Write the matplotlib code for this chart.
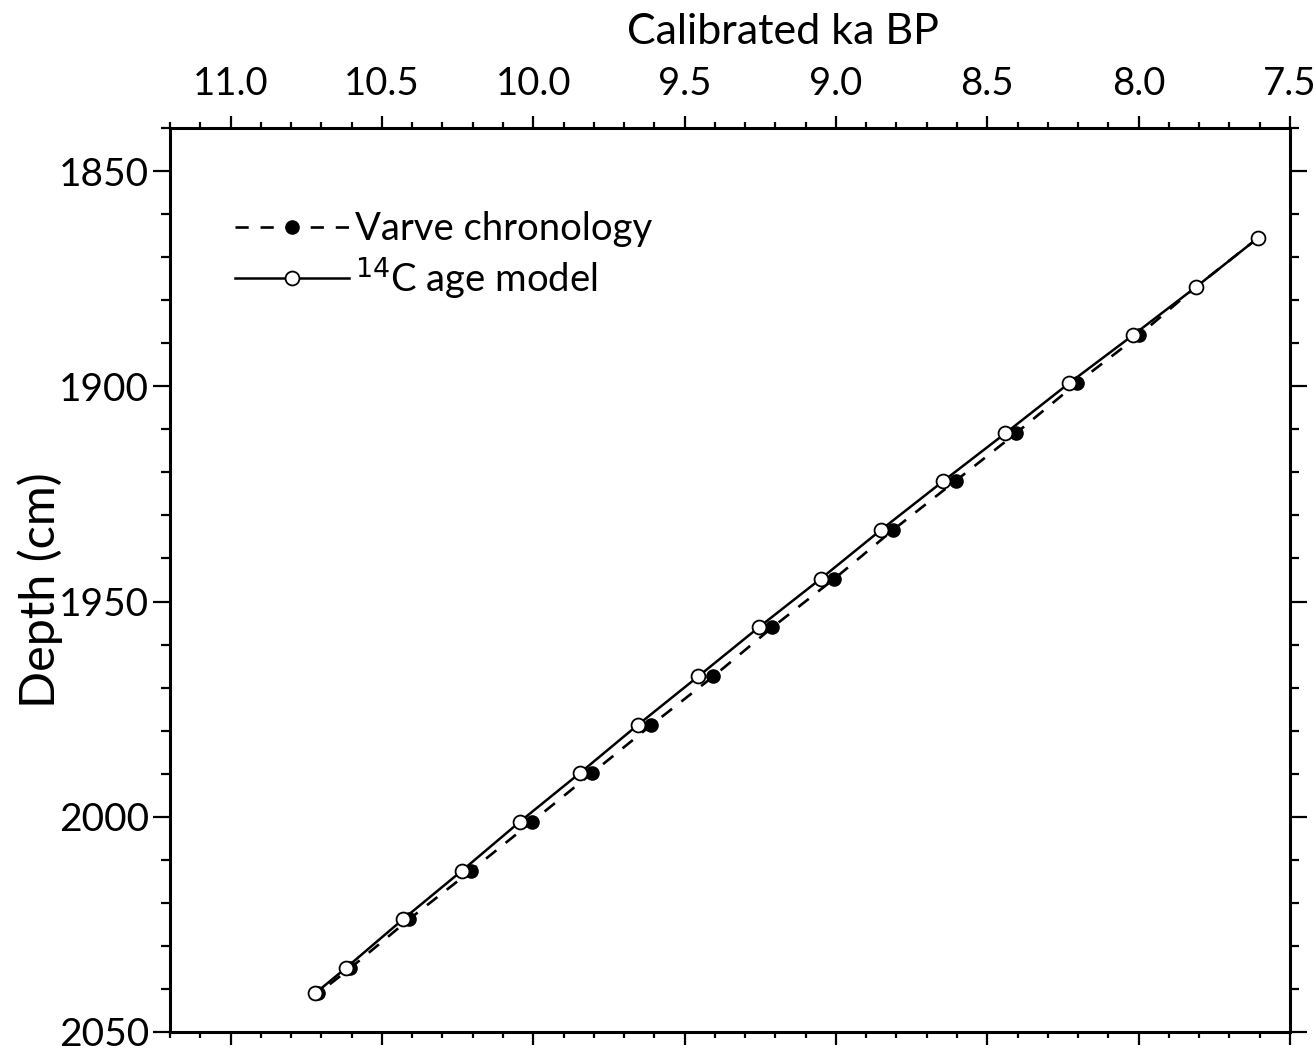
import matplotlib.pyplot as plt
from matplotlib.ticker import MultipleLocator

plt.rcParams['font.family'] = ['Lato', 'DejaVu Sans']

# depth (cm) of the dated levels
depth = [1865.5, 1876.9, 1888.2, 1899.3, 1910.9, 1922.0, 1933.3, 1944.7, 1956.0,
         1967.4, 1978.7, 1989.8, 2001.2, 2012.5, 2023.8, 2035.2, 2041.0]
# varve chronology (cal ka BP)
varve_age = [7.605, 7.81, 8.0, 8.205, 8.405, 8.605, 8.81, 9.005, 9.21,
             9.405, 9.61, 9.805, 10.005, 10.205, 10.41, 10.605, 10.71]
# 14C age model (cal ka BP)
c14_age = [7.605, 7.81, 8.02, 8.23, 8.44, 8.645, 8.85, 9.05, 9.255,
           9.455, 9.655, 9.845, 10.045, 10.235, 10.43, 10.62, 10.72]

fig = plt.figure(figsize=(13.14, 10.54), dpi=100)
ax = fig.add_axes([170 / 1314, 1 - 1032 / 1054, (1290 - 170) / 1314, (1032 - 128) / 1054])

ax.plot(varve_age, depth, color='black', lw=1.9, linestyle=(0, (5, 4.5)),
        marker='o', ms=9.5, mfc='black', mec='black', label='Varve chronology', zorder=2)
ax.plot(c14_age, depth, color='black', lw=1.8, linestyle='-',
        marker='o', ms=10, mfc='white', mec='black', mew=1.3,
        label='$^{14}$C age model', zorder=3)

ax.set_xlim(11.2, 7.5)
ax.set_ylim(2050, 1840)

ax.xaxis.set_major_locator(MultipleLocator(0.5))
ax.xaxis.set_minor_locator(MultipleLocator(0.1))
ax.yaxis.set_major_locator(MultipleLocator(50))
ax.yaxis.set_minor_locator(MultipleLocator(10))
ax.xaxis.set_major_formatter(plt.FuncFormatter(lambda v, p: f'{v:.1f}'))

ax.tick_params(axis='x', which='both', top=True, bottom=True, labeltop=True,
               labelbottom=False, direction='out', width=1.6, labelsize=27.5, pad=10)
ax.tick_params(axis='x', which='major', length=9)
ax.tick_params(axis='x', which='minor', length=4.5)
ax.tick_params(axis='y', which='both', left=True, right=True, direction='out',
               width=1.6, labelsize=28, pad=3)
ax.tick_params(axis='y', which='major', length=12)
ax.tick_params(axis='y', which='minor', length=6.5)

for s in ax.spines.values():
    s.set_linewidth(2.2)

fig.text(783 / 1314, 1 - 32 / 1054, 'Calibrated ka BP', fontsize=31,
         ha='center', va='center')
fig.text(40 / 1314, 1 - 590 / 1054, 'Depth (cm)', fontsize=35,
         rotation=90, ha='center', va='center')

ax.legend(loc='upper left', bbox_to_anchor=(0.044, 0.925), frameon=False,
          fontsize=27.5, handlelength=3.0, handletextpad=0.15, labelspacing=0.2,
          borderaxespad=0)

fig.savefig('out.png', dpi=100)
